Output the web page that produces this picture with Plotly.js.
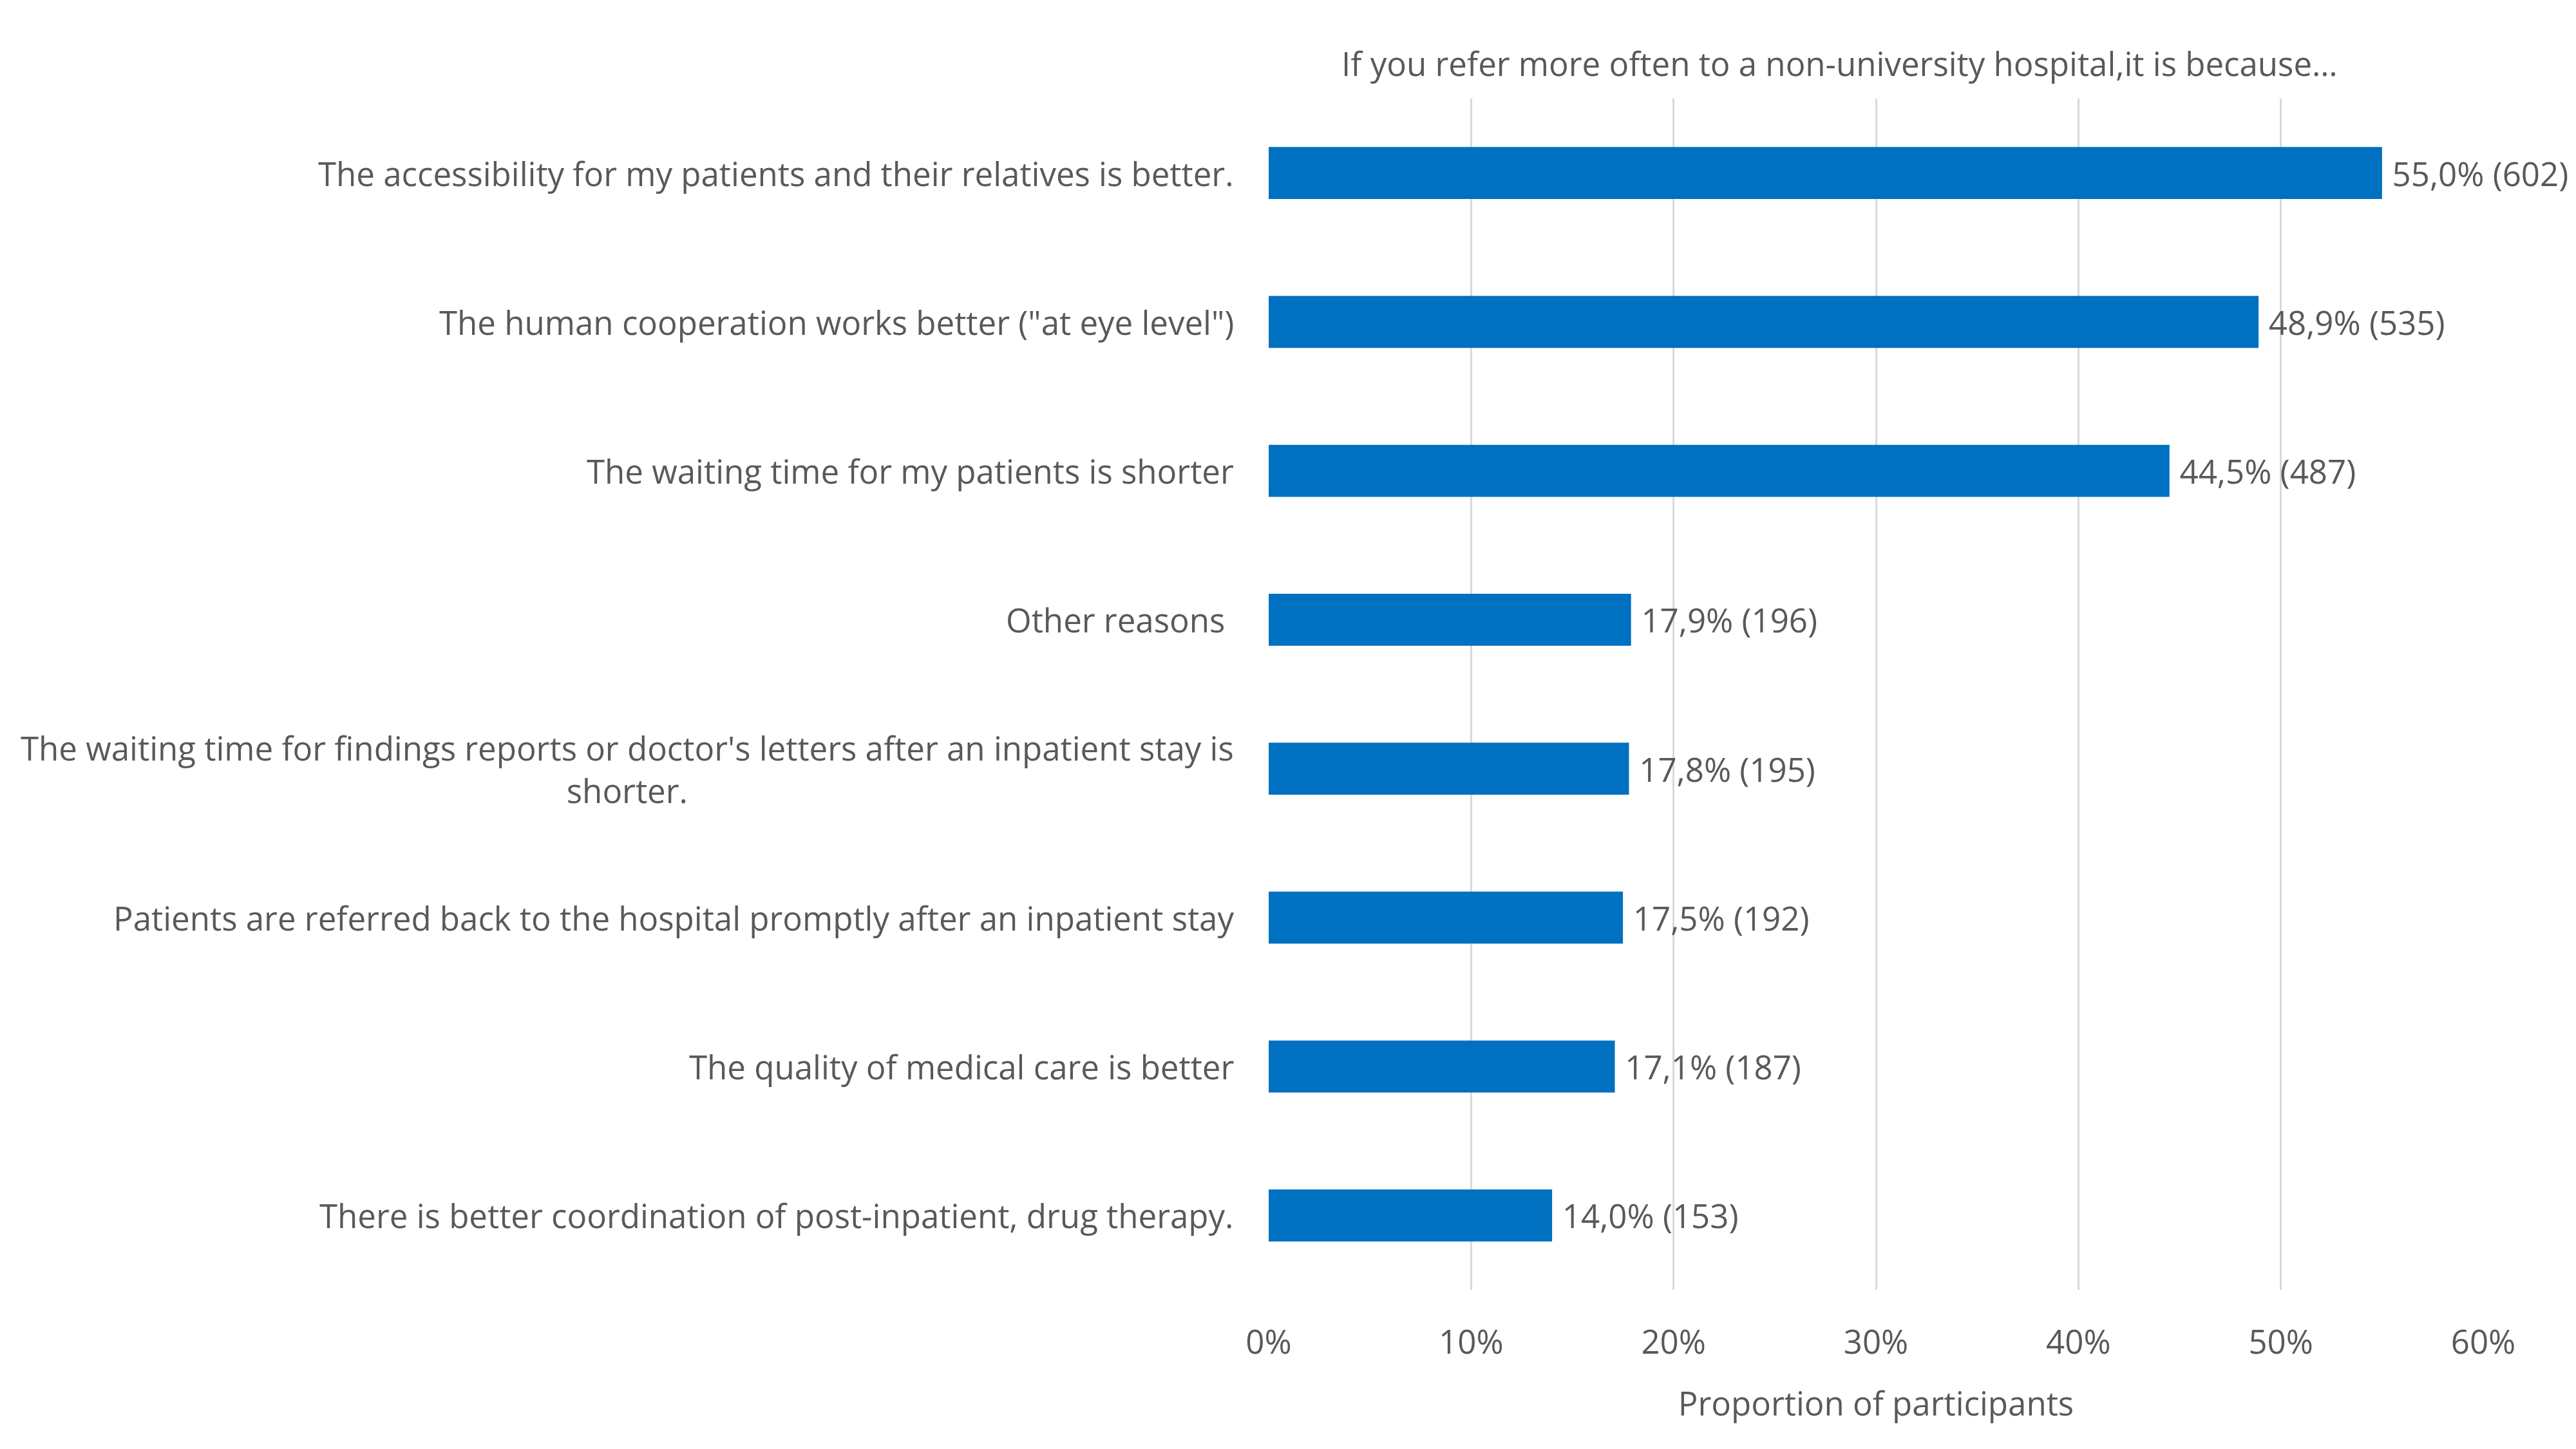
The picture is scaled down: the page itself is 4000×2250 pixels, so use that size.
<!DOCTYPE html>
<html>
<head>
<meta charset="utf-8">
<script src="https://cdn.plot.ly/plotly-3.0.1.min.js"></script>
<style>
  html, body { margin: 0; padding: 0; background: #fff; }
  #chart { width: 4000px; height: 2250px; }
</style>
</head>
<body>
<div id="chart"></div>
<script>
const reasons = [
  "The accessibility for my patients and their relatives is better.",
  "The human cooperation works better (\"at eye level\")",
  "The waiting time for my patients is shorter",
  "Other reasons ",
  "The waiting time for findings reports or doctor's letters after an inpatient stay is<br>shorter.",
  "Patients are referred back to the hospital promptly after an inpatient stay",
  "The quality of medical care is better",
  "There is better coordination of post-inpatient, drug therapy."
];
const shares = [0.550, 0.489, 0.445, 0.179, 0.178, 0.175, 0.171, 0.140];
const counts = [602, 535, 487, 196, 195, 192, 187, 153];
const xTicks = [0, 0.1, 0.2, 0.3, 0.4, 0.5, 0.6];
const xTickLabels = ["0%", "10%", "20%", "30%", "40%", "50%", "60%"];

const textColor = "#595959";
const fontFamily = "'Open Sans', 'Noto Sans', sans-serif";
const fontSize = 51;

// Beschriftung wie im Original: Komma als Dezimaltrenner plus Anzahl
const labels = shares.map((s, i) =>
  "\u2005" + (s * 100).toFixed(1).replace(".", ",") + "% (" + counts[i] + ")"
);

const daten = [{
  type: "bar",
  orientation: "h",
  x: shares,
  y: reasons,
  marker: { color: "#0070C0" },
  text: labels,
  textposition: "outside",
  constraintext: "none",
  cliponaxis: false,
  textfont: { family: fontFamily, size: fontSize, color: textColor },
  hoverinfo: "skip",
}];

// Kategorienbeschriftung als Annotationen, damit mehrzeilige Texte zentriert sind
const kategorien = reasons.map((r) => ({
  xref: "paper",
  yref: "y",
  x: 0,
  y: r,
  xanchor: "right",
  yanchor: "middle",
  xshift: -52,
  align: "center",
  text: r,
  showarrow: false,
  font: { family: fontFamily, size: fontSize, color: textColor },
}));

const layout = {
  width: 4000,
  height: 2250,
  margin: { t: 153, r: 144, b: 247, l: 1970 },
  paper_bgcolor: "#fff",
  plot_bgcolor: "#fff",
  showlegend: false,
  bargap: 0.65,
  font: { family: fontFamily, color: textColor, size: fontSize },
  title: {
    text: "If you refer more often to a non-university hospital,it is because…",
    font: { family: fontFamily, size: fontSize, color: textColor },
    xref: "paper",
    x: 0.47,
    xanchor: "center",
    y: 1 - 100 / 2250,
    yanchor: "middle",
  },
  xaxis: {
    range: [0, 0.6],
    tickvals: xTicks,
    ticktext: xTickLabels,
    showgrid: true,
    gridcolor: "#D9D9D9",
    gridwidth: 3,
    zeroline: false,
    showline: false,
    ticks: "",
    ticklabelstandoff: 47,
    tickfont: { family: fontFamily, size: fontSize, color: textColor },
    title: {
      text: "Proportion of participants",
      font: { family: fontFamily, size: fontSize, color: textColor },
      standoff: 46,
    },
  },
  yaxis: {
    type: "category",
    autorange: "reversed",
    showticklabels: false,
    showgrid: false,
    zeroline: false,
    showline: false,
    ticks: "",
  },
  annotations: kategorien,
};

Plotly.newPlot("chart", daten, layout, { displayModeBar: false, staticPlot: true });
</script>
</body>
</html>
